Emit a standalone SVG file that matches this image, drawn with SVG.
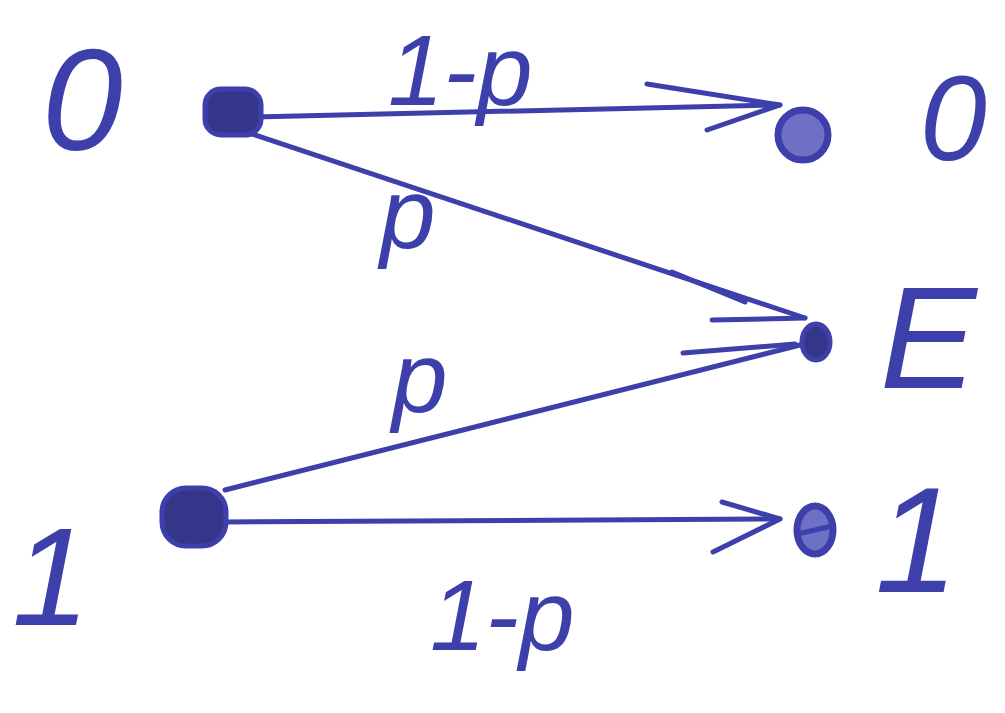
<svg xmlns="http://www.w3.org/2000/svg" width="1005" height="713" viewBox="0 0 1005 713">
<defs>
<style>
.ink{stroke:#3d3fab;stroke-width:5;fill:none;stroke-linecap:round;stroke-linejoin:round}
.dot{fill:#34368a;stroke:#3d3fab;stroke-width:5}
.ring{fill:#6d70c4;stroke:#3d3fab;stroke-width:7}
.lbl{font-family:"Liberation Sans",Arial,sans-serif;font-style:italic;fill:#3d3fab}
.el{font-family:"Liberation Sans",Arial,sans-serif;font-style:italic;fill:#3d3fab;font-size:100px}
</style>
</defs>
<rect width="1005" height="713" fill="#ffffff"/>
<g id="connectors">
<line class="ink" x1="250" y1="117" x2="780" y2="105"/>
<polyline class="ink" points="647,84 780,105 707,130"/>
<line class="ink" x1="240" y1="130" x2="805" y2="318"/>
<polyline class="ink" points="672,272 745,302"/>
<polyline class="ink" points="712,320 805,318"/>
<line class="ink" x1="225" y1="490" x2="800" y2="345"/>
<polyline class="ink" points="683,353 795,344"/>
<line class="ink" x1="225" y1="522" x2="780" y2="519"/>
<polyline class="ink" points="722,502 780,519 713,552"/>
</g>
<g id="n-in0"><rect class="dot" x="205" y="89" width="56" height="46" rx="16"/><text class="lbl" x="42" y="150" font-size="145">0</text></g>
<g id="n-out0"><circle class="ring" cx="803" cy="135" r="25"/><text class="lbl" x="920" y="160" font-size="120">0</text></g>
<g id="n-E"><ellipse class="dot" cx="816" cy="342" rx="14" ry="18"/><text class="lbl" x="880" y="388" font-size="145">E</text></g>
<g id="n-in1"><rect class="dot" x="162" y="488" width="64" height="58" rx="24"/><text class="lbl" x="12" y="625" font-size="140">1</text></g>
<g id="n-out1"><ellipse class="ring" cx="815" cy="530" rx="18" ry="24"/><line class="ink" x1="802" y1="533" x2="828" y2="527"/><text class="lbl" x="875" y="592" font-size="150">1</text></g>
<g id="edge-labels">
<text class="el" x="388" y="105">1-p</text>
<text class="el" x="380" y="248" font-size="95">p</text>
<text class="el" x="392" y="412" font-size="95">p</text>
<text class="el" x="430" y="650" font-size="105">1-p</text>
</g>
</svg>
